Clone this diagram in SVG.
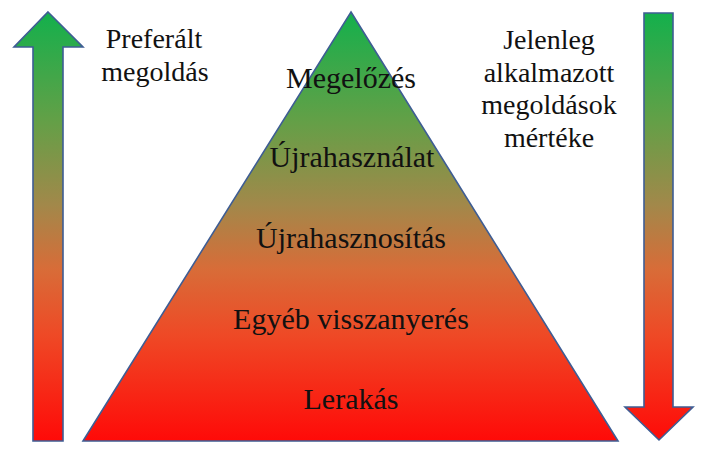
<svg xmlns="http://www.w3.org/2000/svg" width="705" height="452" viewBox="0 0 705 452">
<defs>
<linearGradient id="g" gradientUnits="userSpaceOnUse" x1="0" y1="12" x2="0" y2="441">
<stop offset="0" stop-color="#13b04c"/>
<stop offset="0.25" stop-color="#62a047"/>
<stop offset="0.45" stop-color="#a2884a"/>
<stop offset="0.6" stop-color="#d86c38"/>
<stop offset="0.75" stop-color="#ee4a26"/>
<stop offset="1" stop-color="#ff0a08"/>
</linearGradient>
</defs>
<rect width="705" height="452" fill="#fff"/>
<g id="left-arrow">
<polygon fill="url(#g)" stroke="#3e5d94" stroke-width="1.6" points="48,12 83,47 63,47 63,441 33,441 33,47 14,47"/>
</g>
<g id="left-label">
<text x="154" y="48" font-size="28" fill="#111" text-anchor="middle" font-family="Times New Roman, Liberation Serif, serif">Preferált</text>
<text x="155" y="81" font-size="28" fill="#111" text-anchor="middle" font-family="Times New Roman, Liberation Serif, serif">megoldás</text>
</g>
<g id="pyramid">
<polygon fill="url(#g)" stroke="#3e5d94" stroke-width="1.6" points="351,12 618,441 83,441"/>
<text x="351" y="88" font-size="30" fill="#111" text-anchor="middle" font-family="Times New Roman, Liberation Serif, serif">Megelőzés</text>
<text x="352" y="167" font-size="30" fill="#111" text-anchor="middle" font-family="Times New Roman, Liberation Serif, serif">Újrahasználat</text>
<text x="351" y="248" font-size="30" fill="#111" text-anchor="middle" font-family="Times New Roman, Liberation Serif, serif">Újrahasznosítás</text>
<text x="351" y="329" font-size="30" fill="#111" text-anchor="middle" font-family="Times New Roman, Liberation Serif, serif">Egyéb visszanyerés</text>
<text x="351" y="409" font-size="30" fill="#111" text-anchor="middle" font-family="Times New Roman, Liberation Serif, serif">Lerakás</text>
</g>
<g id="right-arrow">
<polygon fill="url(#g)" stroke="#3e5d94" stroke-width="1.6" points="644,13 673,13 673,407 693,407 659,440 625,407 644,407"/>
</g>
<g id="right-label">
<text x="549" y="49" font-size="28" fill="#111" text-anchor="middle" font-family="Times New Roman, Liberation Serif, serif">Jelenleg</text>
<text x="549" y="82" font-size="28" fill="#111" text-anchor="middle" font-family="Times New Roman, Liberation Serif, serif">alkalmazott</text>
<text x="549" y="114" font-size="28" fill="#111" text-anchor="middle" font-family="Times New Roman, Liberation Serif, serif">megoldások</text>
<text x="549" y="147" font-size="28" fill="#111" text-anchor="middle" font-family="Times New Roman, Liberation Serif, serif">mértéke</text>
</g>
</svg>
